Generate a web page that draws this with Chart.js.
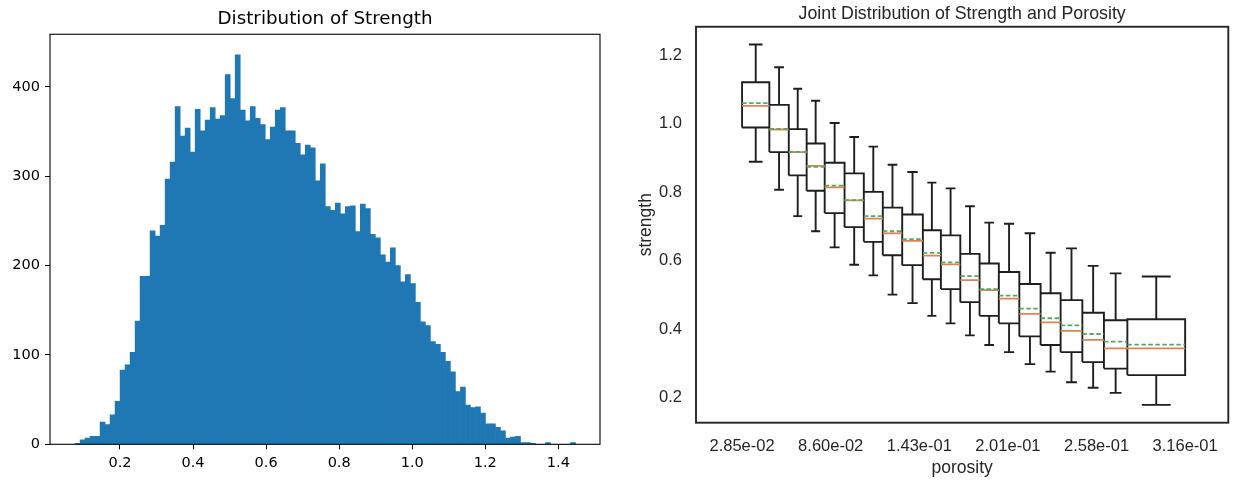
<!DOCTYPE html>
<html>
<head>
<meta charset="utf-8">
<script src="https://cdn.jsdelivr.net/npm/chart.js@4.4.1/dist/chart.umd.min.js"></script>
<style>
  html, body { margin: 0; padding: 0; background: #fff; overflow: hidden; }
  #wrap { position: relative; width: 1233px; height: 481px; background: #fff; }
  canvas { position: absolute; top: 0; }
  #hist { left: 0; }
  #box { left: 630px; }
</style>
</head>
<body>
<div id="wrap">
  <canvas id="hist" width="615" height="481"></canvas>
  <canvas id="box" width="603" height="481"></canvas>
</div>
<script>
// ---- Strength histogram: 100 equal-width bins between the sample min and max ----
const strengthBinStart = 0.077;
const strengthBinEnd = 1.447;
const strengthCounts = [
  1, 5, 7, 9, 9, 25, 22, 33, 48, 83,
  89, 103, 138, 188, 188, 239, 233, 245, 297, 316,
  378, 345, 354, 327, 375, 351, 363, 377, 364, 368,
  414, 387, 436, 374, 362, 378, 365, 358, 341, 355,
  374, 377, 351, 351, 337, 324, 335, 332, 295, 314,
  266, 262, 270, 258, 266, 267, 238, 269, 264, 235,
  231, 212, 204, 220, 200, 182, 190, 180, 159, 137,
  133, 115, 112, 103, 93, 81, 59, 64, 44, 41,
  42, 35, 23, 23, 19, 15, 7, 8, 9, 2,
  2, 1, 0, 0, 2, 0, 0, 0, 0, 2
];
const histXTicks = [0.2, 0.4, 0.6, 0.8, 1.0, 1.2, 1.4];
const histYTicks = [0, 100, 200, 300, 400];

// ---- Strength per porosity bin (20 quantile bins) ----
const porosityEdges = [
  0.0285, 0.0462, 0.0588, 0.0704, 0.0821, 0.0950, 0.1075, 0.1198, 0.1324, 0.1458, 0.1575,
  0.1701, 0.1826, 0.1951, 0.2084, 0.2222, 0.2352, 0.2493, 0.2633, 0.2785, 0.3160
];
const whiskerHigh = [1.231, 1.165, 1.102, 1.067, 1.002, 0.961, 0.933, 0.880, 0.859, 0.828,
                     0.811, 0.759, 0.711, 0.708, 0.680, 0.623, 0.636, 0.585, 0.563, 0.554];
const upperQuartile = [1.121, 1.055, 0.984, 0.942, 0.886, 0.855, 0.801, 0.755, 0.735, 0.689,
                       0.674, 0.620, 0.592, 0.567, 0.532, 0.505, 0.485, 0.448, 0.426, 0.429];
const meanStrength = [1.060, 0.985, 0.918, 0.874, 0.819, 0.777, 0.730, 0.686, 0.663, 0.623,
                      0.595, 0.555, 0.517, 0.498, 0.460, 0.432, 0.411, 0.386, 0.364, 0.355];
const medianStrength = [1.052, 0.983, 0.917, 0.877, 0.814, 0.776, 0.723, 0.680, 0.658, 0.615,
                        0.589, 0.543, 0.514, 0.489, 0.445, 0.420, 0.395, 0.369, 0.344, 0.344];
const lowerQuartile = [0.989, 0.917, 0.849, 0.804, 0.739, 0.698, 0.655, 0.616, 0.587, 0.546,
                       0.517, 0.479, 0.439, 0.417, 0.379, 0.354, 0.333, 0.304, 0.285, 0.266];
const whiskerLow = [0.889, 0.807, 0.730, 0.686, 0.639, 0.588, 0.557, 0.501, 0.476, 0.439,
                    0.417, 0.382, 0.354, 0.333, 0.298, 0.276, 0.245, 0.229, 0.214, 0.179];
const porosityTickValues = [0.0285, 0.0860, 0.1435, 0.2010, 0.2585, 0.3160];
const porosityTickLabels = ['2.85e-02', '8.60e-02', '1.43e-01', '2.01e-01', '2.58e-01', '3.16e-01'];
const strengthTicks = [0.2, 0.4, 0.6, 0.8, 1.0, 1.2];

// Axes frame (all four spines)
const framePlugin = {
  id: 'frame',
  afterDraw(chart, args, opts) {
    const { ctx, chartArea: a } = chart;
    ctx.save();
    ctx.strokeStyle = opts.color;
    ctx.lineWidth = opts.width;
    ctx.strokeRect(a.left, a.top, a.right - a.left, a.bottom - a.top);
    ctx.restore();
  }
};

// ---------------- Left: histogram ----------------
const binWidth = (strengthBinEnd - strengthBinStart) / strengthCounts.length;
const histPoints = strengthCounts.map((c, i) => ({ x: strengthBinStart + (i + 0.5) * binWidth, y: c }));
const mplFont = (size) => ({ family: "'DejaVu Sans', sans-serif", size: size, weight: 'normal' });

new Chart(document.getElementById('hist'), {
  type: 'bar',
  data: {
    datasets: [{
      data: histPoints,
      backgroundColor: '#1f77b4',
      borderWidth: 0,
      barPercentage: 1,
      categoryPercentage: 1
    }]
  },
  options: {
    responsive: false,
    animation: false,
    events: [],
    layout: { padding: { left: 0, right: 15, top: 0, bottom: 0 } },
    plugins: {
      legend: { display: false },
      tooltip: { enabled: false },
      title: {
        display: true,
        text: 'Distribution of Strength',
        fullSize: false,
        color: '#000',
        font: mplFont(18.3),
        padding: { top: 8, bottom: 4.3 }
      },
      frame: { color: '#000', width: 1.1 }
    },
    scales: {
      x: {
        type: 'linear',
        min: 0.0084,
        max: 1.514,
        offset: false,
        afterBuildTicks: (s) => { s.ticks = histXTicks.map(v => ({ value: v })); },
        afterFit: (s) => { s.height = 36.7; },
        grid: { display: true, offset: false, drawOnChartArea: false, drawTicks: true, tickLength: 5, tickColor: '#000', tickWidth: 1 },
        border: { display: false },
        ticks: { color: '#000', font: mplFont(14.5), padding: 5.5, maxRotation: 0, autoSkip: false,
                 callback: (v) => Number(v).toFixed(1) }
      },
      y: {
        type: 'linear',
        min: 0,
        max: 459,
        afterBuildTicks: (s) => { s.ticks = histYTicks.map(v => ({ value: v })); },
        afterFit: (s) => { s.width = 50; },
        grid: { display: true, drawOnChartArea: false, drawTicks: true, tickLength: 5, tickColor: '#000', tickWidth: 1 },
        border: { display: false },
        ticks: { color: '#000', font: mplFont(14.5), padding: 5, autoSkip: false,
                 callback: (v) => String(Math.round(v)) }
      }
    }
  },
  plugins: [framePlugin]
});

// ---------------- Right: box plots of strength per porosity bin ----------------
const boxOutline = [], whiskerLines = [], medianLines = [], meanLines = [];
for (let i = 0; i < porosityEdges.length - 1; i++) {
  const l = porosityEdges[i], r = porosityEdges[i + 1];
  const c = (l + r) / 2, capHalf = (r - l) / 4;
  boxOutline.push(
    { x: l, y: lowerQuartile[i] }, { x: l, y: upperQuartile[i] },
    { x: r, y: upperQuartile[i] }, { x: r, y: lowerQuartile[i] },
    { x: l, y: lowerQuartile[i] }, { x: l, y: null }
  );
  whiskerLines.push(
    { x: c, y: upperQuartile[i] }, { x: c, y: whiskerHigh[i] }, { x: c, y: null },
    { x: c - capHalf, y: whiskerHigh[i] }, { x: c + capHalf, y: whiskerHigh[i] }, { x: c, y: null },
    { x: c, y: lowerQuartile[i] }, { x: c, y: whiskerLow[i] }, { x: c, y: null },
    { x: c - capHalf, y: whiskerLow[i] }, { x: c + capHalf, y: whiskerLow[i] }, { x: c, y: null }
  );
  medianLines.push({ x: l, y: medianStrength[i] }, { x: r, y: medianStrength[i] }, { x: r, y: null });
  meanLines.push({ x: l, y: meanStrength[i] }, { x: r, y: meanStrength[i] }, { x: r, y: null });
}

const sbFont = (size) => ({ family: "'Liberation Sans', Arial, sans-serif", size: size, weight: 'normal' });
const lineSet = (data, color, width, dash, order) => ({
  data, showLine: true, spanGaps: false, borderColor: color, borderWidth: width,
  borderDash: dash, pointRadius: 0, pointHoverRadius: 0, fill: false, order
});

new Chart(document.getElementById('box'), {
  type: 'scatter',
  data: {
    datasets: [
      lineSet(meanLines, '#55a868', 1.8, [4.5, 2.5], 1),
      lineSet(medianLines, '#dd8452', 1.8, [], 2),
      lineSet(whiskerLines, '#1e1e1e', 1.9, [], 3),
      lineSet(boxOutline, '#1e1e1e', 1.9, [], 4)
    ]
  },
  options: {
    responsive: false,
    animation: false,
    events: [],
    layout: { padding: { left: 0, right: 4.7, top: 0, bottom: 0 } },
    plugins: {
      legend: { display: false },
      tooltip: { enabled: false },
      title: {
        display: true,
        text: 'Joint Distribution of Strength and Porosity',
        fullSize: false,
        color: '#262626',
        font: sbFont(17.8),
        padding: { top: 3, bottom: 2.4 }
      },
      frame: { color: '#262626', width: 1.9 }
    },
    scales: {
      x: {
        type: 'linear',
        min: -0.0014,
        max: 0.344,
        afterBuildTicks: (s) => { s.ticks = porosityTickValues.map(v => ({ value: v })); },
        afterFit: (s) => { s.height = 58.3; },
        grid: { display: false, drawTicks: false },
        border: { display: false },
        ticks: { color: '#262626', font: sbFont(16.5), padding: 13.5, maxRotation: 0, autoSkip: false,
                 callback: (v, idx) => porosityTickLabels[idx] },
        title: { display: true, text: 'porosity', color: '#262626', font: sbFont(17.5), padding: { top: 0, bottom: 2.5 } }
      },
      y: {
        type: 'linear',
        min: 0.127,
        max: 1.283,
        afterBuildTicks: (s) => { s.ticks = strengthTicks.map(v => ({ value: v })); },
        afterFit: (s) => { s.width = 66; },
        grid: { display: false, drawTicks: false },
        border: { display: false },
        ticks: { color: '#262626', font: sbFont(16.5), padding: 14, autoSkip: false,
                 callback: (v) => Number(v).toFixed(1) },
        title: { display: true, text: 'strength', color: '#262626', font: sbFont(17.5), padding: { top: 5.5, bottom: 0 } }
      }
    }
  },
  plugins: [framePlugin]
});
</script>
</body>
</html>
